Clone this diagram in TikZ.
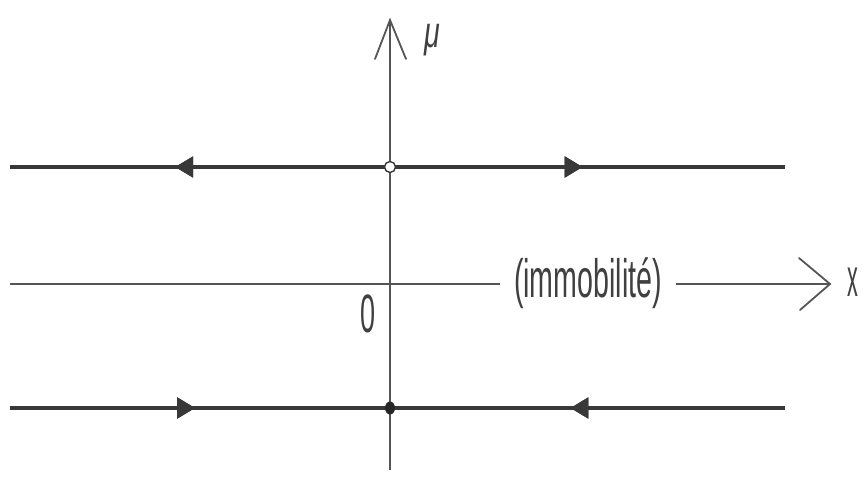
\documentclass[tikz,border=0pt]{standalone}
\usepackage{fontspec}
\setmainfont{Liberation Sans}
\usetikzlibrary{arrows.meta,decorations.markings,shapes.geometric}
\definecolor{thick}{HTML}{383838}
\definecolor{axis}{HTML}{555555}
\definecolor{ink}{HTML}{404040}
\tikzset{
  traj/.style={draw=thick, line width=4.5pt},
  axisline/.style={draw=axis, line width=1.6pt},
  barb/.style={draw=axis, line width=1.8pt, line cap=round},
  lbl/.style={font=\fontsize{54}{56}\selectfont, text=ink, inner sep=1pt},
  tipR/.style={decoration={markings, mark=at position #1 with {\arrow{Triangle[length=18pt,width=20pt]}}}, postaction={decorate}},
  tipL/.style={decoration={markings, mark=at position #1 with {\arrowreversed{Triangle[length=18pt,width=20pt]}}}, postaction={decorate}},
}
\newcommand{\squash}[2][0.53]{\scalebox{#1}[1]{#2}}
\begin{document}
\begin{tikzpicture}[x=1pt,y=-1pt]
\useasboundingbox (0,0) rectangle (864,500);
% coordinates
\coordinate (ytop) at (390,20);
\coordinate (ybot) at (390,470);
\coordinate (xl) at (10,284);
\coordinate (xr) at (830,284);
\coordinate (ul) at (10,167);
\coordinate (ur) at (785,167);
\coordinate (ll) at (10,408);
\coordinate (lr) at (785,408);
\coordinate (ya1) at (375,59);
\coordinate (ya2) at (406,59);
\coordinate (xa1) at (799,258);
\coordinate (xa2) at (800,310);
% axes
\draw[axisline] (ybot) -- (ytop);
\draw[barb] (ya1) -- (ytop) -- (ya2);
\node[lbl, fill=white, inner xsep=14pt, inner ysep=0pt] (imm) at (588,283) {\squash{(immobilité)}};
\draw[axisline] (xl) -- (imm.west |- xl);
\draw[axisline] (imm.east |- xr) -- (xr);
\draw[barb] (xa1) -- (xr) -- (xa2);
\node[lbl] (xlab) at (853,282) {\squash[0.4]{x}};
\node[lbl, font=\fontsize{44}{46}\selectfont\itshape] (mu) at (432,40) {\squash[0.65]{μ}};
\node[lbl] (zero) at (368,314) {\squash[0.5]{0}};
% trajectories
\draw[traj, tipL=0.213, tipR=0.739] (ul) -- (ur);
\draw[traj, tipR=0.239, tipL=0.723] (ll) -- (lr);
% equilibria
\node[circle, draw=thick, fill=white, line width=1.4pt, minimum size=11pt, inner sep=0pt] (eq1) at (390,167) {};
\node[ellipse, fill=black!85, minimum width=10pt, minimum height=13pt, inner sep=0pt] (eq2) at (390,408) {};
\end{tikzpicture}
\end{document}
